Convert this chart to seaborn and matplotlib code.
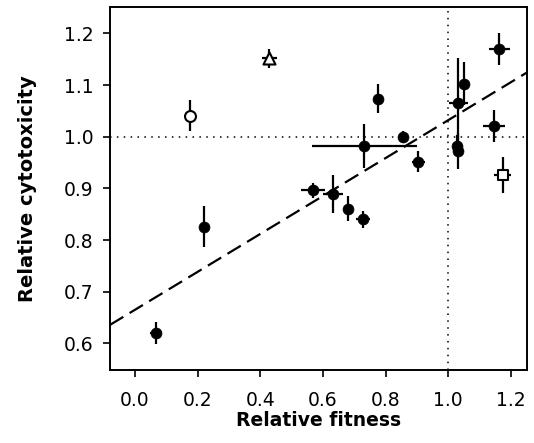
import numpy as np
import pandas as pd
import matplotlib
matplotlib.use("Agg")
import matplotlib.pyplot as plt
import seaborn as sns

# ---- data ----
fitness = [0.067, 0.221, 0.568, 0.632, 0.679, 0.729, 0.732, 0.777, 0.855, 0.905,
           1.028, 1.030, 1.033, 1.052, 1.147, 1.163,
           0.176, 0.429, 1.174]
fitness_err = [0.018, 0.0, 0.039, 0.033, 0.0, 0.022, 0.168, 0.0, 0.01, 0.02,
               0.0, 0.0, 0.03, 0.0, 0.035, 0.034,
               0.0, 0.024, 0.027]
cytotox = [0.620, 0.826, 0.896, 0.889, 0.861, 0.840, 0.982, 1.074, 1.000, 0.952,
           0.983, 0.973, 1.066, 1.103, 1.020, 1.170,
           1.041, 1.152, 0.926]
cytotox_err = [0.022, 0.040, 0.015, 0.036, 0.025, 0.017, 0.042, 0.029, 0.012, 0.021,
               0.02, 0.035, 0.086, 0.042, 0.031, 0.031,
               0.030, 0.018, 0.035]
group = ["filled"] * 16 + ["circle", "triangle", "square"]

fit_intercept = 0.665
fit_slope = 0.367

x_ticks = [0.0, 0.2, 0.4, 0.6, 0.8, 1.0, 1.2]
y_ticks = [0.6, 0.7, 0.8, 0.9, 1.0, 1.1, 1.2]

df = pd.DataFrame({"fitness": fitness, "fitness_err": fitness_err,
                   "cytotox": cytotox, "cytotox_err": cytotox_err, "group": group})

sns.set_theme(style="ticks")
plt.rcParams["font.family"] = ["DejaVu Sans"]

fig = plt.figure(figsize=(5.34, 4.43), dpi=100)
ax = fig.add_axes([0.206, 0.165, 0.781, 0.819])

# reference lines
ax.axhline(1.0, color="black", lw=1.1, ls=(0, (1, 3.5)), zorder=1)
ax.axvline(1.0, color="black", lw=1.1, ls=(0, (1, 3.5)), zorder=1)
ax.axline((0, fit_intercept), slope=fit_slope, color="black", lw=1.6,
          ls=(0, (7, 3.3)), zorder=1)

# error bars
ax.errorbar(df["fitness"], df["cytotox"], xerr=df["fitness_err"], yerr=df["cytotox_err"],
            fmt="none", ecolor="black", elinewidth=1.6, capsize=0, zorder=2)

# markers
sns.scatterplot(data=df[df.group == "filled"], x="fitness", y="cytotox", ax=ax,
                color="black", marker="o", s=62, edgecolor="black", linewidth=0.5,
                zorder=3, legend=False)
open_markers = {"circle": ("o", 62), "triangle": ("^", 75), "square": ("s", 62)}
for g, (m, s) in open_markers.items():
    sns.scatterplot(data=df[df.group == g], x="fitness", y="cytotox", ax=ax,
                    marker=m, s=s, facecolor="white", edgecolor="black",
                    linewidth=1.5, zorder=4, legend=False)

ax.set_xlim(-0.08, 1.252)
ax.set_ylim(0.5485, 1.251)
ax.set_xticks(x_ticks)
ax.set_xticklabels([f"{v:.1f}" for v in x_ticks])
ax.set_yticks(y_ticks)
ax.set_yticklabels([f"{v:.1f}" for v in y_ticks])

for sp in ax.spines.values():
    sp.set_visible(True)
    sp.set_linewidth(1.4)
    sp.set_color("black")
ax.tick_params(axis="both", direction="out", length=5, width=1.2, color="black",
               labelsize=13.5, labelcolor="black")
ax.tick_params(axis="x", pad=10)
ax.tick_params(axis="y", pad=7)

ax.set_xlabel("Relative fitness", fontsize=13.5, fontweight="bold", labelpad=1,
              color="black")
ax.set_ylabel("Relative cytotoxicity", fontsize=14, fontweight="bold", labelpad=19,
              color="black")

fig.savefig("out.png", dpi=100)
